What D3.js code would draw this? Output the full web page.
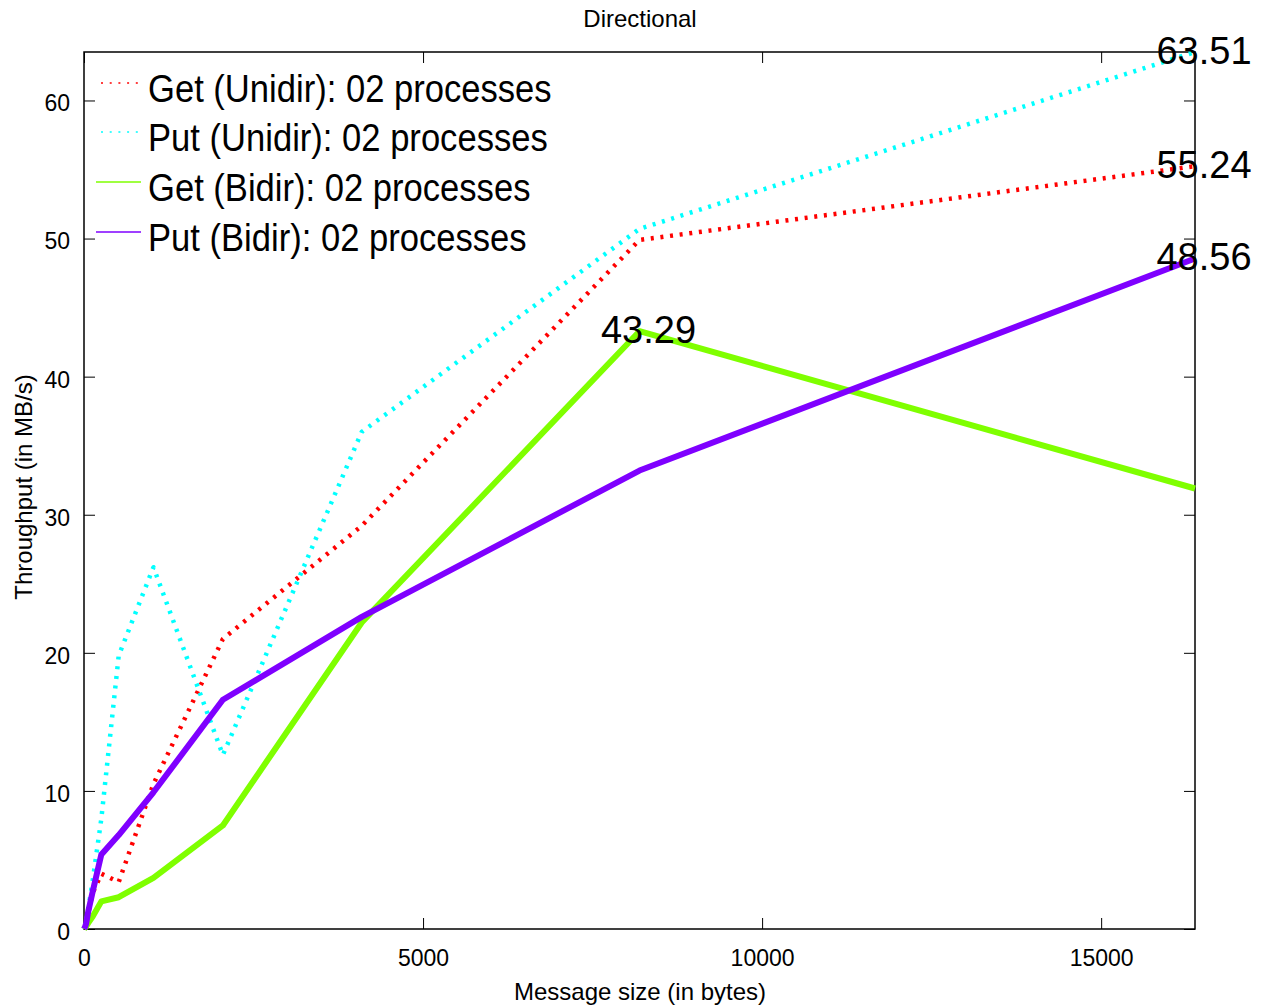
<!DOCTYPE html>
<html>
<head>
<meta charset="utf-8">
<script src="https://cdn.jsdelivr.net/npm/d3@7"></script>
<style>
  html, body { margin: 0; padding: 0; background: #fff; }
  svg { display: block; font-family: "Liberation Sans", Arial, Helvetica, sans-serif; }
</style>
</head>
<body>
<svg id="chart" width="1266" height="1006"></svg>
<script>
// ---- data ----
const messageSizes = [1, 2, 4, 8, 16, 32, 64, 128, 256, 512, 1024, 2048, 4096, 8192, 16384];
const getUnidir = [0.01, 0.02, 0.04, 0.08, 0.16, 0.4, 1.2, 2.6, 4.0, 3.4, 10.5, 21.0, 29.2, 49.9, 55.24];
const putUnidir = [0.01, 0.02, 0.05, 0.1, 0.2, 0.5, 1.5, 3.5, 8.0, 19.8, 26.2, 12.6, 36.0, 50.7, 63.51];
const getBidir  = [0.0, 0.01, 0.02, 0.04, 0.08, 0.2, 0.45, 0.9, 2.0, 2.3, 3.7, 7.5, 22.2, 43.29, 31.9];
const putBidir  = [0.01, 0.02, 0.04, 0.08, 0.15, 0.4, 1.3, 2.7, 5.4, 6.8, 9.9, 16.6, 22.6, 33.2, 48.56];
const seriesNames = ["Get (Unidir): 02 processes", "Put (Unidir): 02 processes",
                     "Get (Bidir): 02 processes", "Put (Bidir): 02 processes"];
const xTicks = [0, 5000, 10000, 15000];
const yTicks = [0, 10, 20, 30, 40, 50, 60];
const titleText = "Directional";
const xLabel = "Message size (in bytes)";
const yLabel = "Throughput (in MB/s)";

// ---- styles ----
const styles = [
  { color: "#ff0000", width: 4.5, dash: "3 6.7", legendWidth: 1.5, legendDash: "2 6.7" },
  { color: "#00ffff", width: 4.5, dash: "3 6.7", legendWidth: 1.5, legendDash: "2 6.7" },
  { color: "#7fff00", width: 6, dash: null, legendWidth: 1.5, legendDash: null },
  { color: "#7f00ff", width: 6, dash: null, legendWidth: 1.5, legendDash: null }
];
const allSeries = [getUnidir, putUnidir, getBidir, putBidir];

const svg = d3.select("#chart");
const L = 84, R = 1195, T = 52, B = 929;

const x = d3.scaleLinear().domain([0, 16384]).range([L, R]);
const y = d3.scaleLinear().domain([0, 63.51]).range([B, T]);

// title
svg.append("text").attr("x", 640).attr("y", 18).attr("text-anchor", "middle")
  .attr("dominant-baseline", "central").attr("font-size", 24).text(titleText);

// axes labels
svg.append("text").attr("x", 640).attr("y", 991).attr("text-anchor", "middle")
  .attr("dominant-baseline", "central").attr("font-size", 24).text(xLabel);
svg.append("text").attr("transform", "translate(23,487) rotate(-90)")
  .attr("text-anchor", "middle").attr("dominant-baseline", "central")
  .attr("font-size", 24).text(yLabel);

// axes via d3
const tickLen = 11;
const xAxisB = d3.axisBottom(x).tickValues(xTicks).tickSize(-tickLen).tickPadding(14).tickFormat(d3.format("d"));
const xAxisT = d3.axisTop(x).tickValues(xTicks).tickSize(-tickLen).tickFormat("");
const yAxisL = d3.axisLeft(y).tickValues(yTicks).tickSize(-tickLen).tickPadding(14).tickFormat(d3.format("d"));
const yAxisR = d3.axisRight(y).tickValues(yTicks).tickSize(-tickLen).tickFormat("");

function styleAxis(g) {
  g.selectAll(".domain").remove();
  g.selectAll(".tick line").attr("stroke", "#000").attr("stroke-width", 1);
  g.selectAll(".tick text").attr("font-size", 23).attr("fill", "#000")
    .attr("font-family", "'Liberation Sans', Arial, Helvetica, sans-serif");
}
svg.append("g").attr("transform", `translate(0,${B})`).call(xAxisB).call(styleAxis)
  .selectAll(".tick text").attr("dy", "0.71em").attr("y", 21);
svg.append("g").attr("transform", `translate(0,${T})`).call(xAxisT).call(styleAxis);
svg.append("g").attr("transform", `translate(${L},0)`).call(yAxisL).call(styleAxis)
  .selectAll(".tick text").attr("x", -14).attr("dy", "0.45em");
svg.append("g").attr("transform", `translate(${R},0)`).call(yAxisR).call(styleAxis);

// frame
svg.append("rect").attr("x", L).attr("y", T).attr("width", R - L).attr("height", B - T)
  .attr("fill", "none").attr("stroke", "#000").attr("stroke-width", 1.5);

// lines
const line = d3.line().x((d, i) => x(messageSizes[i])).y(d => y(d));
allSeries.forEach((vals, k) => {
  const st = styles[k];
  const p = svg.append("path").datum(vals).attr("d", line)
    .attr("fill", "none").attr("stroke", st.color).attr("stroke-width", st.width)
    .attr("stroke-linejoin", "round");
  if (st.dash) p.attr("stroke-dasharray", st.dash);
});

// value labels at max of each series
allSeries.forEach((vals) => {
  const m = d3.maxIndex(vals);
  svg.append("text").attr("x", x(messageSizes[m]) + 9).attr("y", y(vals[m]) - 1)
    .attr("text-anchor", "middle").attr("dominant-baseline", "central")
    .attr("font-size", 38).attr("fill", "#000").text(vals[m].toFixed(2));
});

// legend
const legendY = [89, 138, 188, 238];
seriesNames.forEach((name, k) => {
  const st = styles[k];
  const ly = legendY[k];
  const p = svg.append("line").attr("x1", 96).attr("x2", 141)
    .attr("y1", ly - 6).attr("y2", ly - 6)
    .attr("stroke", st.color).attr("stroke-width", st.legendWidth);
  if (st.legendDash) p.attr("stroke-dasharray", st.legendDash).attr("stroke-dashoffset", -5);
  svg.append("text").attr("transform", `translate(148,${ly}) scale(0.91,1)`)
    .attr("dominant-baseline", "central").attr("font-size", 38).attr("fill", "#000").text(name);
});
</script>
</body>
</html>
